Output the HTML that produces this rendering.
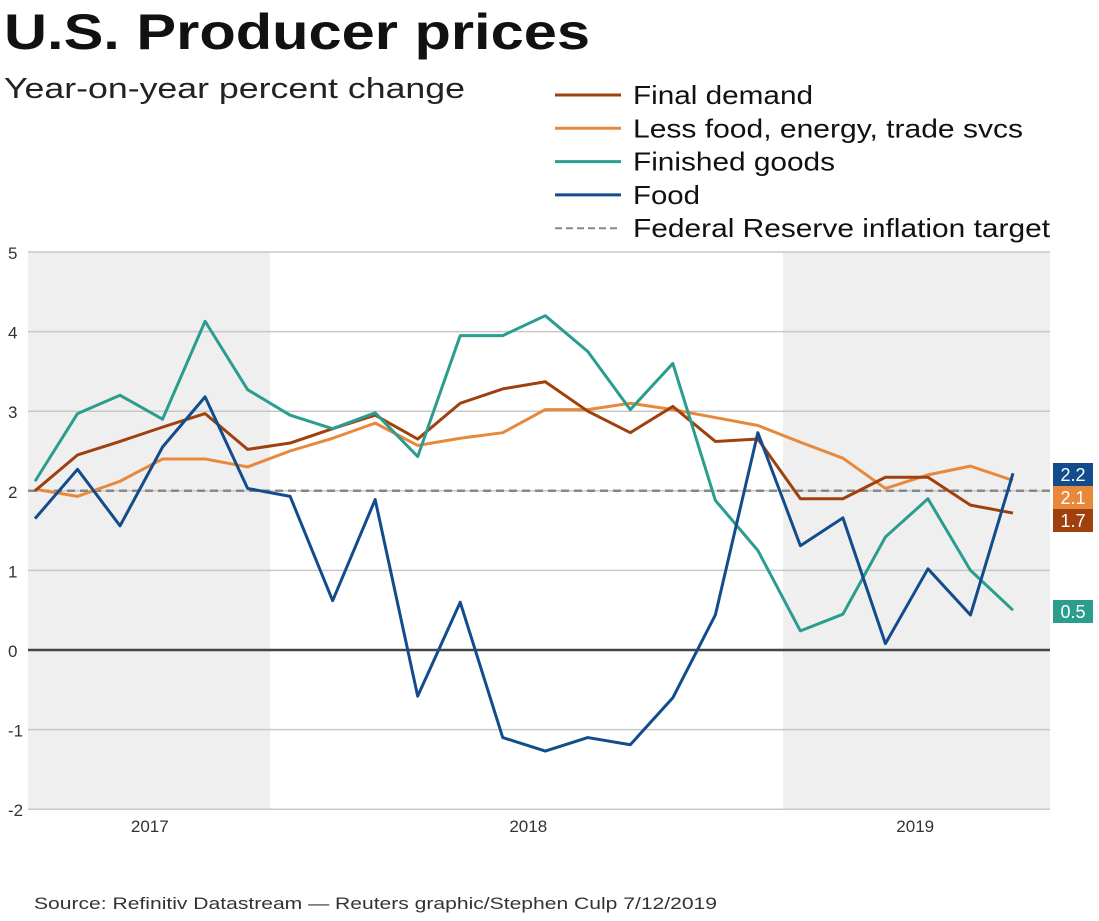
<!DOCTYPE html>
<html><head><meta charset="utf-8"><style>
body{margin:0;background:#fff;font-family:"Liberation Sans",Arial,sans-serif;}
svg text{font-family:"Liberation Sans",Arial,sans-serif;}
</style></head><body>
<svg id="chart" width="1099" height="916" xmlns="http://www.w3.org/2000/svg">
<text x="4" y="49" font-size="50" font-weight="bold" fill="#111" textLength="586" lengthAdjust="spacingAndGlyphs">U.S. Producer prices</text>
<text x="4" y="98" font-size="29" fill="#222" textLength="461" lengthAdjust="spacingAndGlyphs">Year-on-year percent change</text>
<g id="plot"></g>
<g id="legend"></g>
<text x="34" y="909" font-size="17" fill="#333" textLength="683" lengthAdjust="spacingAndGlyphs">Source: Refinitiv Datastream — Reuters graphic/Stephen Culp 7/12/2019</text>
</svg>
<script>
const yTicks=[5,4,3,2,1,0,-1,-2];
const years=["2017","2018","2019"];
const yearPos=[2.7,11.6,20.7];
const finalDemand=[2.0,2.45,2.62,2.8,2.97,2.52,2.6,2.78,2.95,2.65,3.1,3.28,3.37,3.0,2.73,3.06,2.62,2.65,1.9,1.9,2.17,2.17,1.82,1.72];
const lessFood=[2.02,1.93,2.12,2.4,2.4,2.3,2.5,2.66,2.85,2.57,2.66,2.73,3.02,3.02,3.1,3.02,2.92,2.82,2.61,2.41,2.03,2.2,2.31,2.13];
const finishedGoods=[2.12,2.97,3.2,2.9,4.13,3.27,2.95,2.78,2.98,2.43,3.95,3.95,4.2,3.75,3.02,3.6,1.88,1.25,0.24,0.45,1.42,1.9,1.0,0.5];
const food=[1.65,2.27,1.56,2.55,3.18,2.03,1.93,0.62,1.89,-0.58,0.6,-1.1,-1.27,-1.1,-1.19,-0.6,0.44,2.73,1.31,1.66,0.08,1.02,0.44,2.22];
const target=2;
const ns="http://www.w3.org/2000/svg";
const X=i=>35+i*(1013-35)/23;
const Y=v=>650-v*79.6;
const plot=document.getElementById('plot');
function mk(tag,attrs,parent){const e=document.createElementNS(ns,tag);for(const k in attrs)e.setAttribute(k,attrs[k]);(parent||plot).appendChild(e);return e;}
let r=mk('rect',{x:28,y:Y(5),width:242,height:Y(-2)-Y(5),fill:'#efefef'});


r=mk('rect',{x:783,y:Y(5),width:267,height:Y(-2)-Y(5),fill:'#efefef'});


yTicks.forEach(v=>{
 const l=mk('line',{x1:28,x2:1050,y1:Y(v),y2:Y(v),stroke:v===0?'#444':'#c8c8c8','stroke-width':v===0?2.5:1.5});
 
 
 const t=mk('text',{x:8,y:Y(v)+7,'font-size':17,fill:'#333'});t.textContent=v;
 
 
});
years.forEach((y,i)=>{const t=mk('text',{x:X(yearPos[i]),y:832,'font-size':17,fill:'#333','text-anchor':'middle'});t.textContent=y;
 
 });
const tl=mk('line',{x1:28,x2:1050,y1:Y(target),y2:Y(target),stroke:'#888','stroke-width':2.5,'stroke-dasharray':'8,5'});


const series=[[lessFood,'#e8883a','less-food-line'],[finalDemand,'#a0410d','final-demand-line'],[finishedGoods,'#2a9d8f','finished-goods-line'],[food,'#124c8c','food-line']];
series.forEach(([d,c,n])=>{const p=mk('polyline',{points:d.map((v,i)=>X(i)+','+Y(v)).join(' '),fill:'none',stroke:c,'stroke-width':3,'stroke-linejoin':'round'});
 
 });
const tags=[[food,'#124c8c',463],[lessFood,'#e8883a',486],[finalDemand,'#a0410d',509],[finishedGoods,'#2a9d8f',600]];
tags.forEach(([d,c,y])=>{const v=d[d.length-1];
 const b=mk('rect',{x:1053,y:y,width:40,height:23,fill:c});
 
 
 const t=mk('text',{x:1073,y:y+18,'font-size':18,fill:'#fff','text-anchor':'middle'});t.textContent=v.toFixed(1);
 
 });
const lg=document.getElementById('legend');
const items=[['Final demand','#a0410d',0,180],['Less food, energy, trade svcs','#e8883a',0,390],['Finished goods','#2a9d8f',0,202],['Food','#124c8c',0,67],['Federal Reserve inflation target','#888',1,417]];
items.forEach(([txt,c,dash,w],i)=>{const y=95+i*33.3;
 const l=mk('line',{x1:555,x2:621,y1:y,y2:y,stroke:c,'stroke-width':dash?2:3,'stroke-dasharray':dash?'7,4':'none'},lg);
 
 
 const t=mk('text',{x:633,y:y+9,'font-size':26,fill:'#111',textLength:w,lengthAdjust:'spacingAndGlyphs'},lg);t.textContent=txt;
 
 });
</script>
</body></html>
